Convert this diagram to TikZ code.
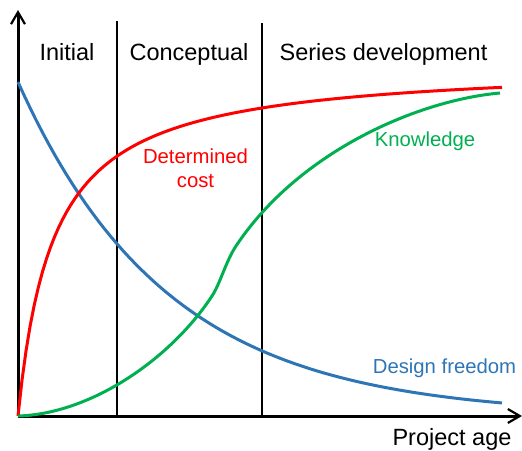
\documentclass[tikz,border=0pt]{standalone}
\usepackage{fontspec}
\setmainfont{Liberation Sans}
\usetikzlibrary{arrows.meta}

\definecolor{costred}{RGB}{255,0,0}
\definecolor{knowgreen}{RGB}{0,176,80}
\definecolor{freeblue}{RGB}{46,117,182}

\begin{document}
\begin{tikzpicture}[x=1pt,y=-1pt,
  axis/.style={line width=3pt,-{Straight Barb[length=12pt,width=14pt,line width=2.2pt]}},
  phase line/.style={line width=1.4pt},
  curve/.style={line width=3pt},
  phase label/.style={anchor=base,inner sep=0pt,font=\fontsize{23.5}{28}\selectfont},
  curve label/.style={anchor=base,inner sep=0pt,align=center,font=\fontsize{20.3}{24}\selectfont}]

  \useasboundingbox (0,0) rectangle (522,450);

  % axes
  \coordinate (o) at (18,416);
  \coordinate (ytop) at (18,10);
  \coordinate (xend) at (522,416);
  \draw[axis] (o) -- (ytop);
  \draw[axis] (o) -- (xend);

  % phase borders
  \coordinate (b1top) at (117,21);
  \coordinate (b1bot) at (117,416);
  \coordinate (b2top) at (262,23);
  \coordinate (b2bot) at (262,416);
  \draw[phase line] (b1top) -- (b1bot);
  \draw[phase line] (b2top) -- (b2bot);

  % phases
  \node[phase label] (ini) at (67,60) {Initial};
  \node[phase label] (concept) at (189,60) {Conceptual};
  \node[phase label] (series) at (383.5,60) {Series development};
  \node[phase label] (age) at (452,445) {Project age};

  % curves
  \draw[curve,freeblue] plot[domain=18:502,samples=80]
    (\x,{416-334*exp(-0.0067*(\x-18))});
  \draw[curve,costred] plot[domain=18:502,samples=120]
    (\x,{416-352.7*((\x-18)/(\x-18+35.4))});
  \draw[curve,knowgreen] (o)
    .. controls (90,414) and (170,360) .. (212,296)
    .. controls (220,284) and (226,261) .. (236,246)
    .. controls (300,150) and (420,100) .. (500,93);

  % curve labels
  \node[curve label,costred] (costlbl) at (195.5,187) {Determined\\cost};
  \node[curve label,knowgreen] (knowlbl) at (425,146) {Knowledge};
  \node[curve label,freeblue] (freelbl) at (444.5,373) {Design freedom};

\end{tikzpicture}
\end{document}
